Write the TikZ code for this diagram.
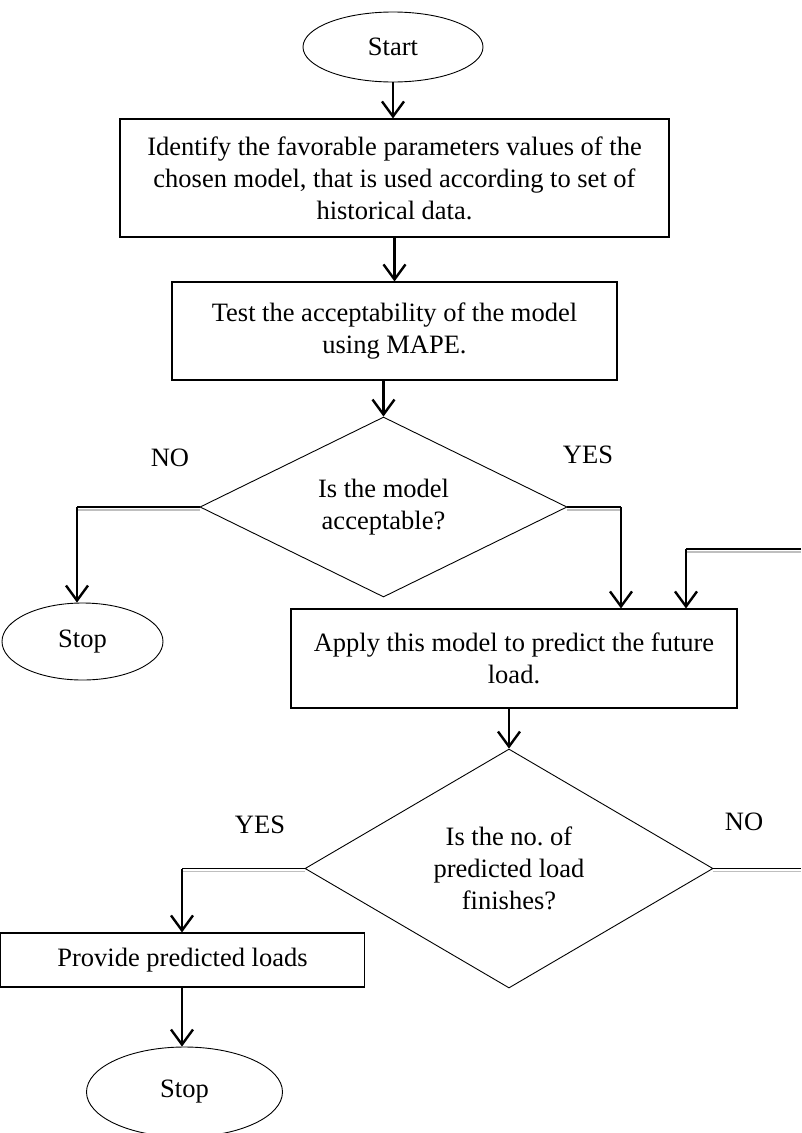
\documentclass[tikz,border=0pt]{standalone}
\usepackage{fontspec}
\setmainfont{Liberation Serif}
\usetikzlibrary{shapes.geometric,arrows.meta,calc}
\frenchspacing
\begin{document}
\begin{tikzpicture}[x=1pt,y=-1pt,
  every node/.style={font=\fontsize{26.5}{32}\selectfont},
  boxnode/.style={draw, line width=1.1pt, rectangle, inner sep=0pt, align=center},
  termnode/.style={draw, line width=0.9pt, ellipse, inner sep=0pt},
  decnode/.style={draw, line width=0.9pt, diamond, inner sep=0pt, align=center},
  flow/.style={line width=2.4pt, -{Straight Barb[length=15pt,width=22pt]}},
  hline/.style={line width=1.1pt, postaction={draw=gray!50, line width=1.1pt, transform canvas={yshift=-3pt}}},
  lbl/.style={inner sep=0pt}
]
\useasboundingbox (0,0) rectangle (801,1133);

% nodes
\node[termnode, minimum width=180, minimum height=70] (start) at (393,47) {Start};
\node[boxnode, minimum width=549, minimum height=118] (b1) at (394.5,178)
  {Identify the favorable parameters values of the\\chosen model, that is used according to set of\\historical data.};
\node[boxnode, minimum width=445, minimum height=98] (b2) at (394.5,331)
  {Test the acceptability of the model\\using MAPE.};
\node[decnode, minimum width=367, minimum height=180, aspect=2.04] (d1) at (383.5,507)
  {Is the model\\acceptable?};
\node[termnode, minimum width=161, minimum height=77] (s1) at (82.5,641.5) {Stop};
\node[boxnode, minimum width=446, minimum height=99] (b3) at (514,658.5)
  {Apply this model to predict the future\\load.};
\node[decnode, minimum width=408, minimum height=239, aspect=1.7] (d2) at (509,868.5)
  {Is the no. of\\predicted load\\finishes?};
\node[boxnode, minimum width=364, minimum height=54] (b4) at (182.5,960) {Provide predicted loads};
\node[termnode, minimum width=196, minimum height=90] (s2) at (184.5,1092) {Stop};

% labels
\node[lbl] (no1) at (170,458) {NO};
\node[lbl] (yes1) at (588,455) {YES};
\node[lbl] (yes2) at (260,825) {YES};
\node[lbl] (no2) at (744,822) {NO};

% helper coordinates
\coordinate (c1) at (77,507);
\coordinate (c2) at (621,507);
\coordinate (c3) at (686,549);
\coordinate (e1) at (801,549);
\coordinate (c4) at (182,868.5);
\coordinate (e2) at (801,868.5);

% connectors
\draw[flow] (start.south) -- (b1.north -| start.south);
\draw[flow] (b1.south) -- (b2.north);
\draw[flow] (d1.north |- b2.south) -- (d1.north);

\draw[hline] (d1.west) -- (c1);
\draw[flow] (c1) -- (c1 |- s1.north);

\draw[hline] (d1.east) -- (c2);
\draw[flow] (c2) -- (c2 |- b3.north);

\draw[hline] (e1) -- (c3);
\draw[flow] (c3) -- (c3 |- b3.north);

\draw[flow] (d2.north |- b3.south) -- (d2.north);

\draw[hline] (d2.west) -- (c4);
\draw[flow] (c4) -- (c4 |- b4.north);

\draw[hline] (d2.east) -- (e2);

\draw[flow] (b4.south -| c4) -- (c4 |- s2.north);
\end{tikzpicture}
\end{document}
